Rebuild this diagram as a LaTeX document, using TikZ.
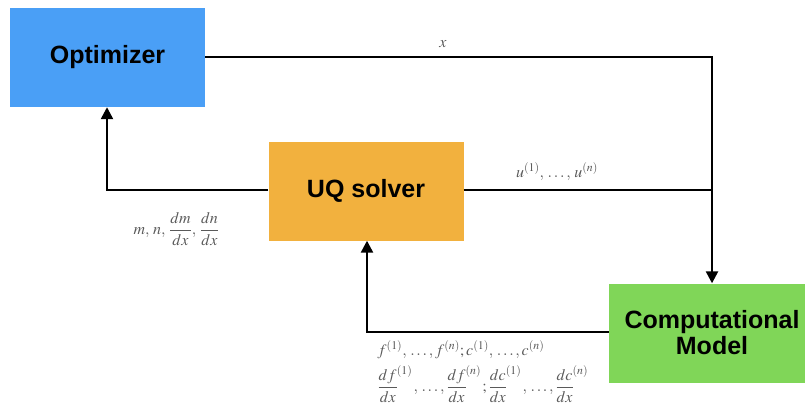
\documentclass[tikz,border=0pt]{standalone}
\usepackage{amsmath}
\usepackage{mathptmx}
\usepackage{fontspec}
\setsansfont{Liberation Sans}
\usetikzlibrary{arrows.meta}
\definecolor{optblue}{HTML}{4A9FF6}
\definecolor{uqorange}{HTML}{F2B13E}
\definecolor{modelgreen}{HTML}{80D658}
\definecolor{labelgray}{HTML}{5A5A5A}
% derivative whose superscript hangs past the fraction bar
\newcommand{\dsup}[3]{\dfrac{#1\smash{\rlap{$^{#2}$}}}{#3}\phantom{^{#2}}}
\begin{document}
\begin{tikzpicture}[x=1pt,y=-1pt,
  block/.style={minimum width=195pt,minimum height=99pt,inner sep=0pt,
    font=\sffamily\bfseries\fontsize{25}{28}\selectfont,align=center},
  flow/.style={line width=2.4pt,draw=black},
  tip/.style={-{Triangle[length=12pt,width=12pt]}},
  lbl/.style={text=labelgray,font=\fontsize{16}{19}\selectfont}]
\useasboundingbox (0,0) rectangle (805,413);
\begin{scope}
\clip (0,0) rectangle (805,413);
\node[block,fill=optblue] (opt) at (107.5,57.5) {Optimizer};
\node[block,fill=uqorange] (uq) at (366,191) {UQ solver};
\node[block,fill=modelgreen,minimum width=206pt] (cm) at (712,333) {Computational\\[-2pt]Model};
\end{scope}
\coordinate (corner) at (712,57);
\coordinate (join) at (713.2,190);
\coordinate (uqleft) at (107,190);
\coordinate (cmleft) at (367,332);
% design variables to the model
\draw[flow,tip] (opt.east |- corner) -- (corner) -- (cm.north -| corner);
% samples from the UQ solver
\draw[flow] (uq.east |- join) -- (join);
% statistics back to the optimizer
\draw[flow,tip] (uq.west |- uqleft) -- (uqleft) -- (opt.south -| uqleft);
% model outputs back to the UQ solver
\draw[flow,tip] (cm.west |- cmleft) -- (cmleft) -- (uq.south -| cmleft);
\node[lbl] (lx) at (443,44) {$x$};
\node[lbl] (lu) at (557,172) {$u^{(1)},\,\ldots,\,u^{(n)}$};
\node[lbl,anchor=west] (lm) at (130,229) {$m,\,n,\,\dfrac{dm}{dx},\,\dfrac{dn}{dx}$};
\node[lbl,anchor=west] (lf) at (374,350) {$f^{(1)},\,\ldots,f^{(n)};c^{(1)},\,\ldots,c^{(n)}$};
\node[lbl,anchor=west] (ld) at (374,386) {$\dsup{df}{(1)}{dx},\,\ldots,\dsup{df}{(n)}{dx};\dsup{dc}{(1)}{dx},\,\ldots,\dsup{dc}{(n)}{dx}$};
\end{tikzpicture}
\end{document}
